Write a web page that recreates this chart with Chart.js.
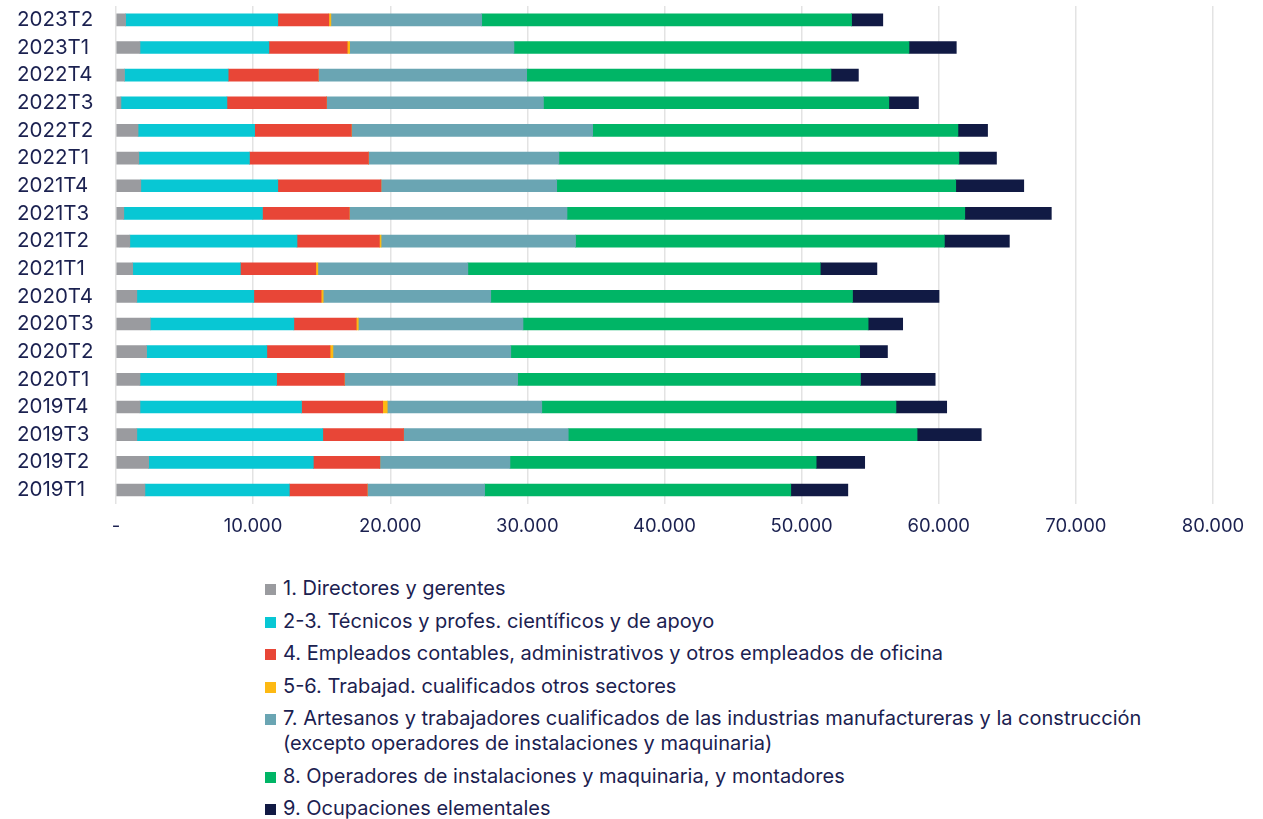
<!DOCTYPE html>
<html lang="es">
<head>
    <meta charset="UTF-8">
    <title>Ocupaciones por trimestre</title>
    <script src="https://cdn.jsdelivr.net/npm/chart.js"></script>
    <style>
        body {
            margin: 0;
            background: #fff;
            font-family: Inter, "Noto Sans", sans-serif;
            color: #1b2150;
        }
        .grafico {
            position: relative;
            width: 1263px;
            height: 550px;
        }
        #leyenda {
            position: absolute;
            left: 265px;
            top: 576px;
            margin: 0;
            padding: 0;
            list-style: none;
            font-size: 20px;
            line-height: 25px;
        }
        #leyenda li {
            display: flex;
            align-items: flex-start;
            margin-bottom: 7.5px;
        }
        #leyenda .cuadro {
            width: 11px;
            height: 11px;
            margin-top: 8px;
            margin-right: 7px;
            flex: none;
        }
        #leyenda .texto {
            white-space: pre-line;
        }
    </style>
</head>
<body>
    <div class="grafico">
        <canvas id="chartOcupaciones"></canvas>
    </div>
    <ul id="leyenda"></ul>

    <script>
        // trimestres, de arriba a abajo
        const trimestres = ['2023T2', '2023T1', '2022T4', '2022T3', '2022T2', '2022T1',
            '2021T4', '2021T3', '2021T2', '2021T1', '2020T4', '2020T3', '2020T2',
            '2020T1', '2019T4', '2019T3', '2019T2', '2019T1'];

        const directores  = [700, 1750, 620, 360, 1610, 1670, 1810, 570, 1010, 1220, 1520, 2500, 2230, 1750, 1750, 1520, 2380, 2110];
        const tecnicos    = [11100, 9400, 7560, 7730, 8500, 8060, 9990, 10110, 12190, 7850, 8530, 10470, 8770, 9960, 11780, 13560, 12010, 10530];
        const empleados   = [3720, 5710, 6570, 7260, 7050, 8680, 7520, 6330, 6010, 5500, 4910, 4550, 4610, 4940, 5920, 5890, 4850, 5680];
        const trabajad    = [150, 180, 0, 0, 0, 0, 0, 0, 120, 150, 150, 150, 210, 0, 330, 0, 0, 0];
        const artesanos   = [11000, 11980, 15200, 15820, 17600, 13890, 12820, 15880, 14180, 10940, 12220, 12010, 12970, 12640, 11270, 12010, 9490, 8560];
        const operadores  = [26970, 28810, 22190, 25190, 26640, 29170, 29100, 29010, 26900, 25700, 26380, 25170, 25440, 25000, 25830, 25440, 22330, 22330];
        const elementales = [2280, 3450, 2000, 2160, 2160, 2740, 4960, 6310, 4740, 4130, 6310, 2520, 2030, 5450, 3700, 4680, 3540, 4160];

        const etiquetas = [
            '1. Directores y gerentes',
            '2-3. Técnicos y profes. científicos y de apoyo',
            '4. Empleados contables, administrativos y otros empleados de oficina',
            '5-6. Trabajad. cualificados otros sectores',
            '7. Artesanos y trabajadores cualificados de las industrias manufactureras y la construcción\n(excepto operadores de instalaciones y maquinaria)',
            '8. Operadores de instalaciones y maquinaria, y montadores',
            '9. Ocupaciones elementales'
        ];
        const colores = ['#9a9b9f', '#08c7d4', '#e84637', '#fdb913', '#6aa5b3', '#00b566', '#111a44'];
        const series = [directores, tecnicos, empleados, trabajad, artesanos, operadores, elementales];

        function formatoMiles(v) {
            if (v === 0) return '-';
            return String(v).replace(/\B(?=(\d{3})+(?!\d))/g, '.');
        }

        const ctx = document.getElementById('chartOcupaciones').getContext('2d');
        const chart = new Chart(ctx, {
            type: 'bar',
            data: {
                labels: trimestres,
                datasets: series.map((d, i) => ({
                    label: etiquetas[i],
                    data: d,
                    backgroundColor: colores[i],
                    borderWidth: 0,
                    barThickness: 12
                }))
            },
            options: {
                indexAxis: 'y',
                responsive: true,
                maintainAspectRatio: false,
                animation: false,
                layout: { padding: { top: 6, right: 50, left: 17, bottom: 0 } },
                plugins: {
                    legend: { display: false },
                    tooltip: { enabled: true }
                },
                scales: {
                    x: {
                        stacked: true,
                        min: 0,
                        max: 80000,
                        border: { display: false },
                        grid: { color: '#e3e3e3', lineWidth: 1.5, drawTicks: false },
                        ticks: {
                            stepSize: 10000,
                            padding: 12,
                            color: '#1b2150',
                            font: { family: 'Inter', size: 18.5 },
                            callback: v => formatoMiles(v)
                        }
                    },
                    y: {
                        stacked: true,
                        border: { display: false },
                        grid: { display: false },
                        ticks: {
                            autoSkip: false,
                            crossAlign: 'far',
                            color: '#1b2150',
                            padding: 15,
                            font: { family: 'Inter', size: 20.5 }
                        },
                        afterFit: s => {
                            s.width = 99;
                            s.paddingTop = 0;
                            s.paddingBottom = 0;
                        }
                    }
                }
            }
        });

        // leyenda en HTML, una columna
        const leyenda = document.getElementById('leyenda');
        chart.data.datasets.forEach(ds => {
            const li = document.createElement('li');
            const c = document.createElement('span');
            c.className = 'cuadro';
            c.style.background = ds.backgroundColor;
            const t = document.createElement('span');
            t.className = 'texto';
            t.textContent = ds.label;
            li.appendChild(c);
            li.appendChild(t);
            leyenda.appendChild(li);
        });
    </script>
</body>
</html>
